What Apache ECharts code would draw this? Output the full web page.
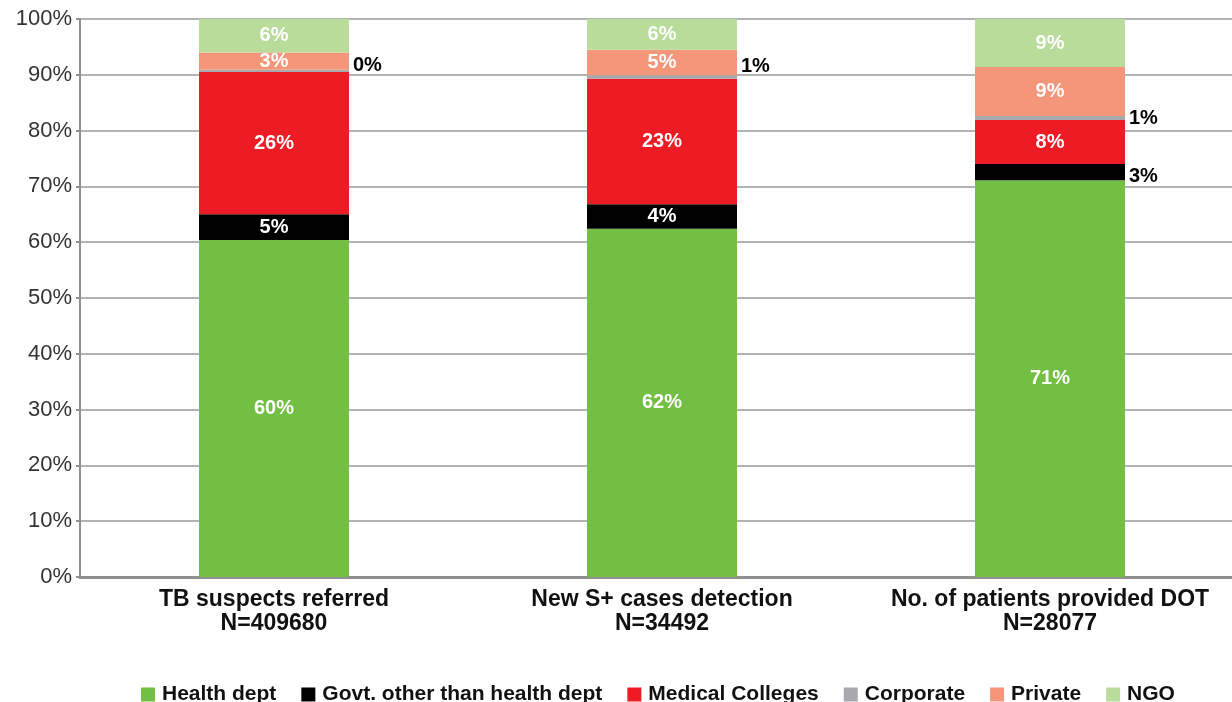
<!DOCTYPE html>
<html>
<head>
<meta charset="utf-8">
<title>TB programme contributions by sector</title>
<script src="https://cdn.jsdelivr.net/npm/echarts@6/dist/echarts.min.js"></script>
<style>
  html, body { margin: 0; padding: 0; background: #ffffff; overflow: hidden; }
  #wrap { width: 1232px; height: 702px; overflow: hidden; }
  #chart { width: 1260px; height: 702px; }
</style>
</head>
<body>
<div id="wrap"><div id="chart"></div></div>
<script>
// Indicator categories (two-line axis labels)
const categories = [
  'TB suspects referred\nN=409680',
  'New S+ cases detection\nN=34492',
  'No. of patients provided DOT\nN=28077'
];

// Share of each indicator by sector, in percent (each column adds to 100)
const healthDept      = [60.4, 62.4, 71.1];
const govtOther       = [4.6, 4.4, 2.9];
const medicalColleges = [25.5, 22.5, 7.9];
const corporate       = [0.4, 0.6, 0.7];
const privateSector   = [3.1, 4.6, 8.8];
const ngo             = [6.0, 5.5, 8.6];

const seriesNames = ['Health dept', 'Govt. other than health dept', 'Medical Colleges', 'Corporate', 'Private', 'NGO'];
const seriesColors = ['#72bf44', '#000000', '#ed1c24', '#a7a9ac', '#f4967a', '#b9dc9b'];

// Value axis ticks
const yTicks = [0, 10, 20, 30, 40, 50, 60, 70, 80, 90, 100];

const FONT = "'Liberation Sans', Arial, Helvetica, sans-serif";

const pct = p => Math.round(p.value) + '%';

const insideLabel = {
  show: true,
  position: 'inside',
  color: '#ffffff',
  fontFamily: FONT,
  fontWeight: 'bold',
  fontSize: 20,
  formatter: pct
};

const outsideLabel = (offsetY) => ({
  show: true,
  position: 'right',
  distance: 4,
  offset: [0, offsetY],
  color: '#000000',
  fontFamily: FONT,
  fontWeight: 'bold',
  fontSize: 20,
  formatter: pct
});

// Thin segments get their label beside the bar instead of inside it
const govtData = govtOther.map((v, i) =>
  i === 2 ? { value: v, label: outsideLabel(4) } : { value: v }
);
const corporateOffsets = [-5, -11, 0];
const corporateData = corporate.map((v, i) => ({ value: v, label: outsideLabel(corporateOffsets[i]) }));

const seriesData = [healthDept, govtData, medicalColleges, corporateData, privateSector, ngo];

const chart = echarts.init(document.getElementById('chart'), null, { renderer: 'canvas' });

chart.setOption({
  animation: false,
  backgroundColor: '#ffffff',
  textStyle: { fontFamily: FONT },
  grid: { left: 80, top: 19, width: 1164, height: 558, containLabel: false },
  legend: {
    data: seriesNames,
    left: 136,
    top: 679,
    itemWidth: 14,
    itemHeight: 14,
    itemGap: 25,
    icon: 'rect',
    textStyle: {
      fontFamily: FONT,
      fontSize: 21,
      fontWeight: 'bold',
      color: '#111111',
      padding: [0, 0, 0, 2]
    }
  },
  xAxis: {
    type: 'category',
    data: categories,
    axisLine: { show: true, lineStyle: { color: '#8f8f8f', width: 3 } },
    axisTick: { show: false },
    axisLabel: {
      margin: 11,
      color: '#111111',
      fontFamily: FONT,
      fontWeight: 'bold',
      fontSize: 23,
      lineHeight: 24,
      interval: 0
    },
    splitLine: { show: false }
  },
  yAxis: {
    type: 'value',
    min: yTicks[0],
    max: yTicks[yTicks.length - 1],
    interval: yTicks[1] - yTicks[0],
    axisLine: { show: true, lineStyle: { color: '#8f8f8f', width: 2 } },
    axisTick: { show: true, inside: false, length: 4, lineStyle: { color: '#8f8f8f', width: 2 } },
    axisLabel: {
      margin: 8,
      color: '#333333',
      fontFamily: FONT,
      fontSize: 22,
      formatter: '{value}%'
    },
    splitLine: { show: true, lineStyle: { color: '#b3b3b3', width: 2 } }
  },
  series: seriesNames.map((name, i) => ({
    name: name,
    type: 'bar',
    stack: 'share',
    barWidth: 150,
    data: seriesData[i],
    itemStyle: { color: seriesColors[i] },
    label: insideLabel,
    emphasis: { disabled: true }
  }))
});
</script>
</body>
</html>
